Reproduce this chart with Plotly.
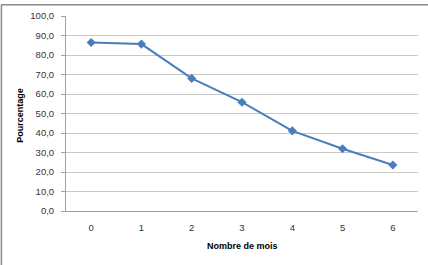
import plotly.graph_objects as go

mois = [0, 1, 2, 3, 4, 5, 6]
pourcentage = [86.4, 85.6, 68.0, 55.8, 41.1, 31.9, 23.6]
y_ticks = [0, 10, 20, 30, 40, 50, 60, 70, 80, 90, 100]

FONT = "Liberation Sans"
fig = go.Figure()
fig.add_trace(go.Scatter(
    x=mois, y=pourcentage, mode="lines+markers",
    line=dict(color="#4A7EBB", width=2),
    marker=dict(symbol="diamond", size=7, color="#4A7EBB"),
    showlegend=False,
))

fig.update_layout(
    width=428, height=265,
    margin=dict(l=66, r=10, t=12, b=54),
    paper_bgcolor="white", plot_bgcolor="white",
    separators=", ",
    font=dict(family=FONT, size=9.5, color="#333333"),
    xaxis=dict(
        range=[-0.5, 6.5], tickvals=mois, ticktext=[str(m) for m in mois],
        showgrid=False, zeroline=False, showline=True, linecolor="#a0a0a0", linewidth=1,
        ticks="", ticklabelstandoff=8,
    ),
    yaxis=dict(
        range=[0, 100], tickvals=y_ticks, tickformat=".1f",
        showgrid=True, gridcolor="#c8c8c8", gridwidth=1,
        zeroline=False, showline=True, linecolor="#a0a0a0", linewidth=1,
        ticks="outside", ticklen=4, tickcolor="#a0a0a0", ticklabelstandoff=5,
    ),
    annotations=[
        dict(text="<b>Nombre de mois</b>", xref="paper", yref="paper",
             x=0.5, y=-0.18, xanchor="center", yanchor="middle", showarrow=False,
             font=dict(family=FONT, size=9, color="black")),
        dict(text="<b>Pourcentage</b>", xref="paper", yref="paper",
             x=-0.13, y=0.49, xanchor="center", yanchor="middle", showarrow=False,
             textangle=-90, font=dict(family=FONT, size=9, color="black")),
    ],
    shapes=[
        dict(type="line", xref="paper", yref="paper", x0=-0.1835, x1=-0.1835, y0=-0.28, y1=1.058,
             line=dict(color="#888888", width=1.5)),
        dict(type="line", xref="paper", yref="paper", x0=-0.1835, x1=1.03, y0=1.058, y1=1.058,
             line=dict(color="#888888", width=1.5)),
    ],
)

fig.write_html("out.html")
